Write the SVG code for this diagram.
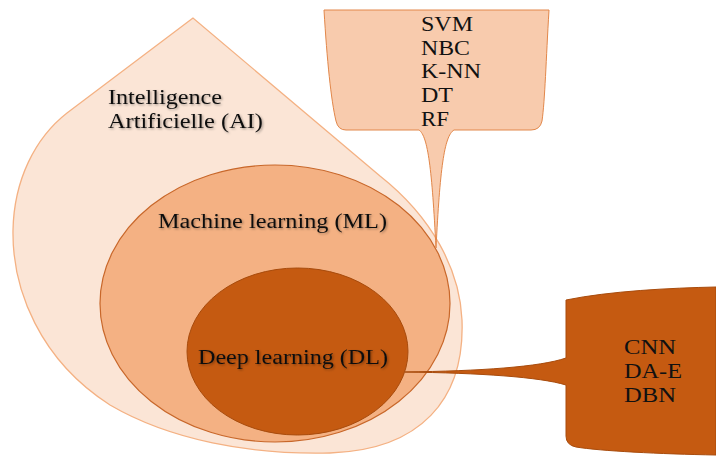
<svg xmlns="http://www.w3.org/2000/svg" width="716" height="456" viewBox="0 0 716 456">
<style>
.t{font-family:"Liberation Serif","Times New Roman",serif;font-size:20px;fill:#111;}
.sh{filter:url(#shadow);}
</style>
<defs>
<filter id="shadow" x="-10%" y="-30%" width="120%" height="160%">
<feDropShadow dx="1.2" dy="1.2" stdDeviation="0.8" flood-color="#000" flood-opacity="0.35"/>
</filter>
</defs>
<rect width="716" height="456" fill="#fff"/>
<g id="ai">
<path d="M193,18 L67,113 C35,138 14,180 13,230 C12,290 40,360 110,405 C170,440 250,455 330,453 C420,450 465,400 462,320 C460,270 432,217 380,176 Z" fill="#FBE5D6" stroke="#F4B183" stroke-width="1.3"/>
<text class="t sh" x="108" y="104" textLength="114" lengthAdjust="spacingAndGlyphs">Intelligence</text>
<text class="t sh" x="108" y="128" textLength="155" lengthAdjust="spacingAndGlyphs">Artificielle (AI)</text>
</g>
<g id="ml">
<ellipse cx="275" cy="303.5" rx="175" ry="138.5" fill="#F4B183" stroke="#C8672A" stroke-width="1.2"/>
<text class="t sh" x="158" y="228" textLength="229" lengthAdjust="spacingAndGlyphs">Machine learning (ML)</text>
</g>
<g id="dl">
<ellipse cx="297.5" cy="351.5" rx="110.5" ry="83.5" fill="#C55A11" stroke="#A84B0C" stroke-width="1"/>
<text class="t sh" x="198" y="364" textLength="190" lengthAdjust="spacingAndGlyphs">Deep learning (DL)</text>
</g>
<g id="connectors">
<g id="callout-ml">
<path d="M324,10 L549,10 C546,60 545,100 542,121 Q540,130 531,130 L454,130 C444,136 440,170 436,248 C432,170 428,136 419,130 L346,130 Q338,130 336,121 C331,100 327,60 324,10 Z" fill="#F8CBAD" stroke="#E2874A" stroke-width="1"/>
<text class="t" x="421" y="31" textLength="52" lengthAdjust="spacingAndGlyphs">SVM</text>
<text class="t" x="421" y="55" textLength="49" lengthAdjust="spacingAndGlyphs">NBC</text>
<text class="t" x="421" y="78" textLength="60" lengthAdjust="spacingAndGlyphs">K-NN</text>
<text class="t" x="421" y="102" textLength="32" lengthAdjust="spacingAndGlyphs">DT</text>
<text class="t" x="421" y="126" textLength="28" lengthAdjust="spacingAndGlyphs">RF</text>
</g>
<g id="callout-dl">
<path d="M566,300 C610,291 670,288 716,287 L716,455 C660,454 600,451 576,447 Q566,445 566,436 L566,385 C540,377 480,373 405,372 C480,371 540,367 566,358 Z" fill="#C55A11" stroke="#A84B0C" stroke-width="1"/>
<text class="t" x="624" y="354" textLength="52" lengthAdjust="spacingAndGlyphs">CNN</text>
<text class="t" x="624" y="378" textLength="58" lengthAdjust="spacingAndGlyphs">DA-E</text>
<text class="t" x="624" y="402" textLength="52" lengthAdjust="spacingAndGlyphs">DBN</text>
</g>
</g>
</svg>
